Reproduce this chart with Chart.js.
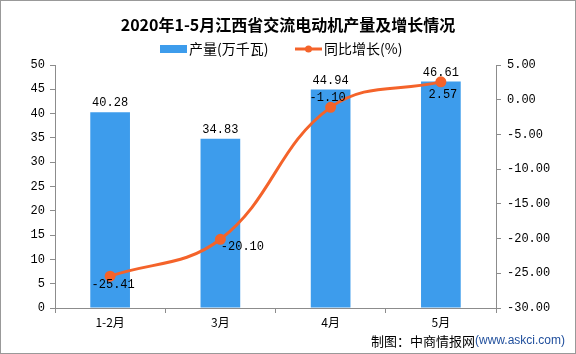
<!DOCTYPE html>
<html>
<head>
<meta charset="utf-8">
<script src="https://cdn.jsdelivr.net/npm/chart.js@4/dist/chart.umd.min.js"></script>
<style>
  html, body { margin: 0; padding: 0; background: #fff; }
  #wrap { width: 576px; height: 354px; position: relative; }
</style>
</head>
<body>
<div id="wrap"><canvas id="myChart" width="576" height="354"></canvas></div>
<script>
// chart data
var categories = ['1-2月', '3月', '4月', '5月'];
var output = [40.28, 34.83, 44.94, 46.61];      // 产量(万千瓦)
var growth = [-25.41, -20.10, -1.10, 2.57];     // 同比增长(%)
var leftTicks = [0, 50, 5];
var rightTicks = [-30, 5, 5];

var titleText = '2020年1-5月江西省交流电动机产量及增长情况';
var legendBar = '产量(万千瓦)';
var legendLine = '同比增长(%)';
var footerText = '制图：中商情报网';
var footerUrl = '(www.askci.com)';

var blue = '#3d9cec';
var orange = '#f4632a';
var axisGray = '#8c8c8c';
var numFont = '12px "Liberation Mono", monospace';
var cjkFont = '"Noto Sans CJK SC", sans-serif';

// draws title, legend, value labels, footer and frame
var decor = {
    id: 'decor',
    afterDraw: function (chart) {
        var c = chart.ctx;
        c.save();

        c.fillStyle = '#000';
        c.textAlign = 'center';
        c.textBaseline = 'middle';
        c.font = 'bold 16px ' + cjkFont;
        c.fillText(titleText, 288, 25);

        // legend
        c.font = '14px ' + cjkFont;
        c.textAlign = 'left';
        c.fillStyle = blue;
        c.fillRect(160, 45, 27, 8);
        c.fillStyle = '#000';
        c.fillText(legendBar, 189, 49);
        c.strokeStyle = orange;
        c.lineWidth = 3;
        c.beginPath();
        c.moveTo(295, 49);
        c.lineTo(322, 49);
        c.stroke();
        c.fillStyle = orange;
        c.beginPath();
        c.arc(308.5, 49, 3.5, 0, Math.PI * 2);
        c.fill();
        c.fillStyle = '#000';
        c.fillText(legendLine, 324, 49);

        // value labels
        c.font = numFont;
        c.fillStyle = '#000';
        c.textAlign = 'center';
        c.textBaseline = 'bottom';
        chart.getDatasetMeta(0).data.forEach(function (b, i) {
            c.fillText(output[i].toFixed(2), b.x, b.y - 3);
        });
        var pts = chart.getDatasetMeta(1).data;
        var offs = [[3, 9], [22, 8], [-3, -10], [2, 13]];
        pts.forEach(function (p, i) {
            c.textBaseline = 'middle';
            c.fillText(growth[i].toFixed(2), p.x + offs[i][0], p.y + offs[i][1]);
        });

        // footer
        c.textAlign = 'left';
        c.textBaseline = 'middle';
        c.font = '13px ' + cjkFont;
        c.fillStyle = '#000';
        c.fillText(footerText, 371, 341);
        var w = c.measureText(footerText).width;
        c.font = '12px "Liberation Sans", sans-serif';
        c.fillStyle = '#1f4e9c';
        c.fillText(footerUrl, 371 + w, 341);

        // frame
        c.strokeStyle = '#999';
        c.lineWidth = 1;
        c.strokeRect(0.5, 0.5, 575, 353);
        c.restore();
    }
};

var ctx = document.getElementById('myChart').getContext('2d');
var myChart = new Chart(ctx, {
    data: {
        labels: categories,
        datasets: [
            {
                type: 'bar',
                label: legendBar,
                backgroundColor: blue,
                data: output,
                yAxisID: 'y',
                barPercentage: 0.72,
                categoryPercentage: 0.5,
                order: 2
            },
            {
                type: 'line',
                label: legendLine,
                borderColor: orange,
                backgroundColor: orange,
                borderWidth: 3,
                pointRadius: 4,
                pointBackgroundColor: orange,
                tension: 0.4,
                data: growth,
                yAxisID: 'y1',
                order: 1
            }
        ]
    },
    options: {
        responsive: false,
        animation: false,
        layout: { padding: { top: 65, left: 0, right: 0, bottom: 0 } },
        plugins: {
            legend: { display: false },
            title: { display: false },
            tooltip: { enabled: false }
        },
        scales: {
            x: {
                offset: true,
                afterFit: function (s) { s.height = 46; },
                grid: { offset: true, drawOnChartArea: false, drawTicks: true, tickLength: 5, color: axisGray },
                border: { color: axisGray },
                ticks: { color: '#000', font: { family: cjkFont, size: 12 }, padding: 2 }
            },
            y: {
                position: 'left',
                min: leftTicks[0],
                max: leftTicks[1],
                afterFit: function (s) { s.width = 55; },
                grid: { drawOnChartArea: false, tickLength: 5, color: axisGray },
                border: { color: axisGray },
                ticks: { stepSize: leftTicks[2], color: '#000', font: { family: '"Liberation Mono", monospace', size: 12 }, padding: 5 }
            },
            y1: {
                position: 'right',
                min: rightTicks[0],
                max: rightTicks[1],
                afterFit: function (s) { s.width = 80; },
                grid: { drawOnChartArea: false, tickLength: 5, color: axisGray },
                border: { color: axisGray },
                ticks: {
                    stepSize: rightTicks[2],
                    color: '#000',
                    font: { family: '"Liberation Mono", monospace', size: 12 },
                    padding: 6,
                    callback: function (v) { return v.toFixed(2); }
                }
            }
        }
    },
    plugins: [decor]
});
</script>
</body>
</html>
